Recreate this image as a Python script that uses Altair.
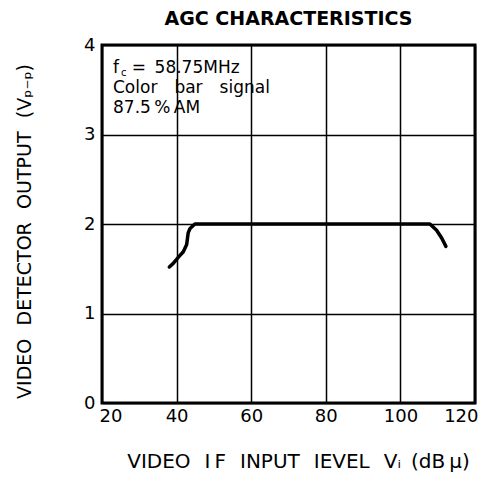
import altair as alt
import pandas as pd

# curve
input_level = [38.05, 39.1, 40.5, 41.8, 42.7, 43.1, 43.6, 44.9, 60.0, 80.0, 100.0, 107.9, 109.7, 111.1, 112.2]
output_vpp = [1.52, 1.56, 1.63, 1.69, 1.77, 1.90, 1.95, 2.00, 2.00, 2.00, 2.00, 2.00, 1.93, 1.84, 1.75]

x_ticks = [20, 40, 60, 80, 100, 120]
y_ticks = [0, 1, 2, 3, 4]

GAP = "\u2002\u2009"
NGAP = "\u2003"
note_lines = [f"Color{NGAP}bar{NGAP}signal", "87.5\u2009%\u2009AM"]

df = pd.DataFrame({"x": input_level, "y": output_vpp})

FONT = "DejaVu Sans"

x_scale = alt.Scale(domain=[20, 120], nice=False, zero=False)
y_scale = alt.Scale(domain=[0, 4], nice=False)

x_axis = alt.Axis(
    values=x_ticks, format="d", labelFlush=True, labelFlushOffset=3,
    title=f"VIDEO{GAP}I\u2009F{GAP}INPUT{GAP}IEVEL{GAP}V\u1d62\u2002(dB\u2009\u03bc)",
    titleFont=FONT, titleFontSize=20, titleFontWeight="normal", titleColor="black",
    titleX=196, titleY=64, titleBaseline="alphabetic", titleAnchor="middle",
    labelFont=FONT, labelFontSize=18, labelColor="black", labelPadding=4,
    domain=False, ticks=False, grid=True, gridColor="black", gridWidth=1.5, gridOpacity=1,
)
y_axis = alt.Axis(
    values=y_ticks, format="d", labelFlush=False,
    title=f"VIDEO{GAP}DETECTOR{GAP}OUTPUT{GAP}(V\u209a\u208b\u209a)",
    titleFont=FONT, titleFontSize=19, titleFontWeight="normal", titleColor="black",
    titleAngle=270, titleX=-72, titleY=186, titleBaseline="alphabetic", titleAnchor="middle",
    labelFont=FONT, labelFontSize=18, labelColor="black", labelPadding=7,
    domain=False, ticks=False, grid=True, gridColor="black", gridWidth=1.5, gridOpacity=1,
)

curve = alt.Chart(df).mark_line(color="black", strokeWidth=3.5, strokeCap="round", strokeJoin="round").encode(
    x=alt.X("x:Q", scale=x_scale, axis=x_axis),
    y=alt.Y("y:Q", scale=y_scale, axis=y_axis),
)

def note(text, x, y, size=17):
    return alt.Chart().mark_text(
        text=text, font=FONT, fontSize=size, color="black", align="left", baseline="alphabetic"
    ).encode(x=alt.datum(x, scale=x_scale), y=alt.datum(y, scale=y_scale))

notes = [
    note("f", 22.95, 3.687),
    note("c", 25.1, 3.650, size=10),
    note("=\u200258.75MHz", 28.0, 3.687),
    note(note_lines[0], 22.95, 3.464),
    note(note_lines[1], 22.95, 3.240),
]

chart = alt.layer(curve, *notes).properties(
    width=373,
    height=358,
    title=alt.TitleParams(
        "AGC CHARACTERISTICS", font=FONT, fontSize=19, fontWeight="bold", color="black",
        anchor="middle", frame="group", offset=7,
    ),
    autosize=alt.AutoSizeParams(type="none"),
    padding={"left": 94, "top": 37, "right": 14, "bottom": 69},
    background="white",
).configure_view(stroke="black", strokeWidth=3)

chart.save("out.html", embed_options={"renderer": "svg", "actions": False})
